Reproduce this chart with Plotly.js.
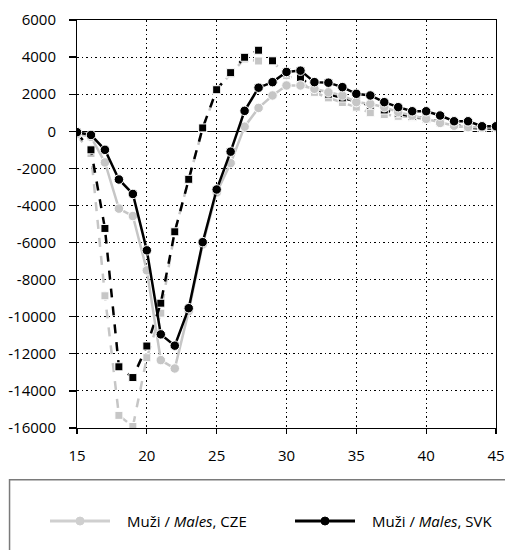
<!DOCTYPE html>
<html>
<head>
<meta charset="utf-8">
<script src="https://cdn.plot.ly/plotly-3.0.1.min.js"></script>
<style>html,body{margin:0;padding:0;background:#fff;}#chart{width:505px;height:550px;}</style>
</head>
<body>
<div id="chart"></div>
<script>
var ages = [15,16,17,18,19,20,21,22,23,24,25,26,27,28,29,30,31,32,33,34,35,36,37,38,39,40,41,42,43,44,45];

var czeMales = [-150,-300,-1680,-4170,-4570,-7500,-12340,-12790,-9700,-6100,-3300,-1720,250,1260,1930,2470,2470,2290,2100,1930,1570,1480,1300,1030,850,670,450,300,220,200,200];
var svkMales = [-50,-200,-1000,-2600,-3380,-6420,-10950,-11560,-9540,-5980,-3140,-1100,1100,2350,2650,3200,3270,2650,2620,2380,2020,1930,1570,1300,1080,1080,850,540,540,270,270];
var czeFemales = [-200,-1200,-8870,-15320,-15920,-12210,-9810,-5400,-2600,150,2200,3100,3900,3790,3770,3000,2700,2100,1800,1550,1300,1000,900,810,760,630,450,300,200,150,150];
var svkFemales = [-100,-1000,-5240,-12700,-13280,-11580,-9270,-5420,-2590,180,2240,3160,3990,4370,3800,3150,2900,2300,2000,1800,1600,1400,1150,950,800,700,500,350,200,150,150];

var yTicks = [-16000,-14000,-12000,-10000,-8000,-6000,-4000,-2000,0,2000,4000,6000];
var yTickText = ['-16000','-14000','-12000','-10000','-8000','-6000','-4000','-2000','0','2000','4000','6000'];
var xTicks = [15,20,25,30,35,40,45];
var xTickText = ['15','20','25','30','35','40','45'];

var legendLabels = ['Muži / <i>Males</i>, CZE', 'Muži / <i>Males</i>, SVK'];

var gray = '#c6c6c6';
var black = '#000000';

var traces = [
  {x: ages, y: czeFemales, mode: 'lines+markers', showlegend: false, name: 'CZE F',
   line: {color: gray, width: 2.5, dash: 'dash'},
   marker: {symbol: 'square', size: 8, color: gray, line: {color: '#fff', width: 1}}},
  {x: ages, y: svkFemales, mode: 'lines+markers', showlegend: false, name: 'SVK F',
   line: {color: black, width: 2.5, dash: 'dash'},
   marker: {symbol: 'square', size: 8, color: black, line: {color: '#fff', width: 1}}},
  {x: ages, y: czeMales, mode: 'lines+markers', showlegend: false, name: legendLabels[0],
   line: {color: gray, width: 2.5},
   marker: {symbol: 'circle', size: 9.5, color: gray, line: {color: '#fff', width: 1}}},
  {x: ages, y: svkMales, mode: 'lines+markers', showlegend: false, name: legendLabels[1],
   line: {color: black, width: 2.5},
   marker: {symbol: 'circle', size: 9.5, color: black, line: {color: '#fff', width: 1}}}
];

// custom legend (paper coordinates)
var legY = -0.228;
var legItems = [
  {x0: -0.0644, x1: 0.0788, xm: 0.0072, xt: 0.1146, color: '#cfcfcf', text: legendLabels[0]},
  {x0: 0.5203, x1: 0.6635, xm: 0.5919, xt: 0.6993, color: black, text: legendLabels[1]}
];
var shapes = [
  {type: 'rect', xref: 'paper', yref: 'paper', x0: -0.161, x1: 1.06, y0: -0.127, y1: -0.33,
   line: {color: '#7a7a7a', width: 1.5}, fillcolor: 'rgba(0,0,0,0)'}
];
var annotations = [];
legItems.forEach(function (it) {
  shapes.push({type: 'line', xref: 'paper', yref: 'paper', x0: it.x0, x1: it.x1, y0: legY, y1: legY,
    line: {color: it.color, width: 3}});
  shapes.push({type: 'circle', xref: 'paper', yref: 'paper', xsizemode: 'pixel', ysizemode: 'pixel',
    xanchor: it.xm, yanchor: legY, x0: -4, x1: 4, y0: -4, y1: 4,
    fillcolor: it.color, line: {color: it.color, width: 1}});
  annotations.push({xref: 'paper', yref: 'paper', x: it.xt, y: legY, xanchor: 'left', yanchor: 'middle',
    text: it.text, showarrow: false, font: {size: 15, color: '#000'}});
});

var layout = {
  width: 505, height: 550,
  margin: {l: 77, r: 9, t: 20, b: 122},
  paper_bgcolor: '#fff', plot_bgcolor: '#fff',
  font: {family: 'Open Sans, sans-serif', size: 15, color: '#000'},
  showlegend: false,
  xaxis: {
    range: [15, 45], tickmode: 'array', tickvals: xTicks, ticktext: xTickText,
    showgrid: true, gridcolor: '#000', griddash: '1.5px,3px', gridwidth: 1,
    zeroline: false, showline: true, linecolor: '#000', linewidth: 1, mirror: true,
    ticks: 'outside', ticklen: 5, tickcolor: '#000', tickwidth: 1.2,
    ticklabelstandoff: 9, tickfont: {size: 15}
  },
  yaxis: {
    range: [-16000, 6000], tickmode: 'array', tickvals: yTicks, ticktext: yTickText,
    showgrid: true, gridcolor: '#000', griddash: '1.5px,3px', gridwidth: 1,
    zeroline: true, zerolinecolor: '#000', zerolinewidth: 1,
    showline: true, linecolor: '#000', linewidth: 1, mirror: true,
    ticks: 'outside', ticklen: 7, tickcolor: '#000', tickwidth: 1.2,
    ticklabelstandoff: 10, tickfont: {size: 15}
  },
  shapes: shapes,
  annotations: annotations
};

Plotly.newPlot('chart', traces, layout, {displayModeBar: false, staticPlot: true});
</script>
</body>
</html>
